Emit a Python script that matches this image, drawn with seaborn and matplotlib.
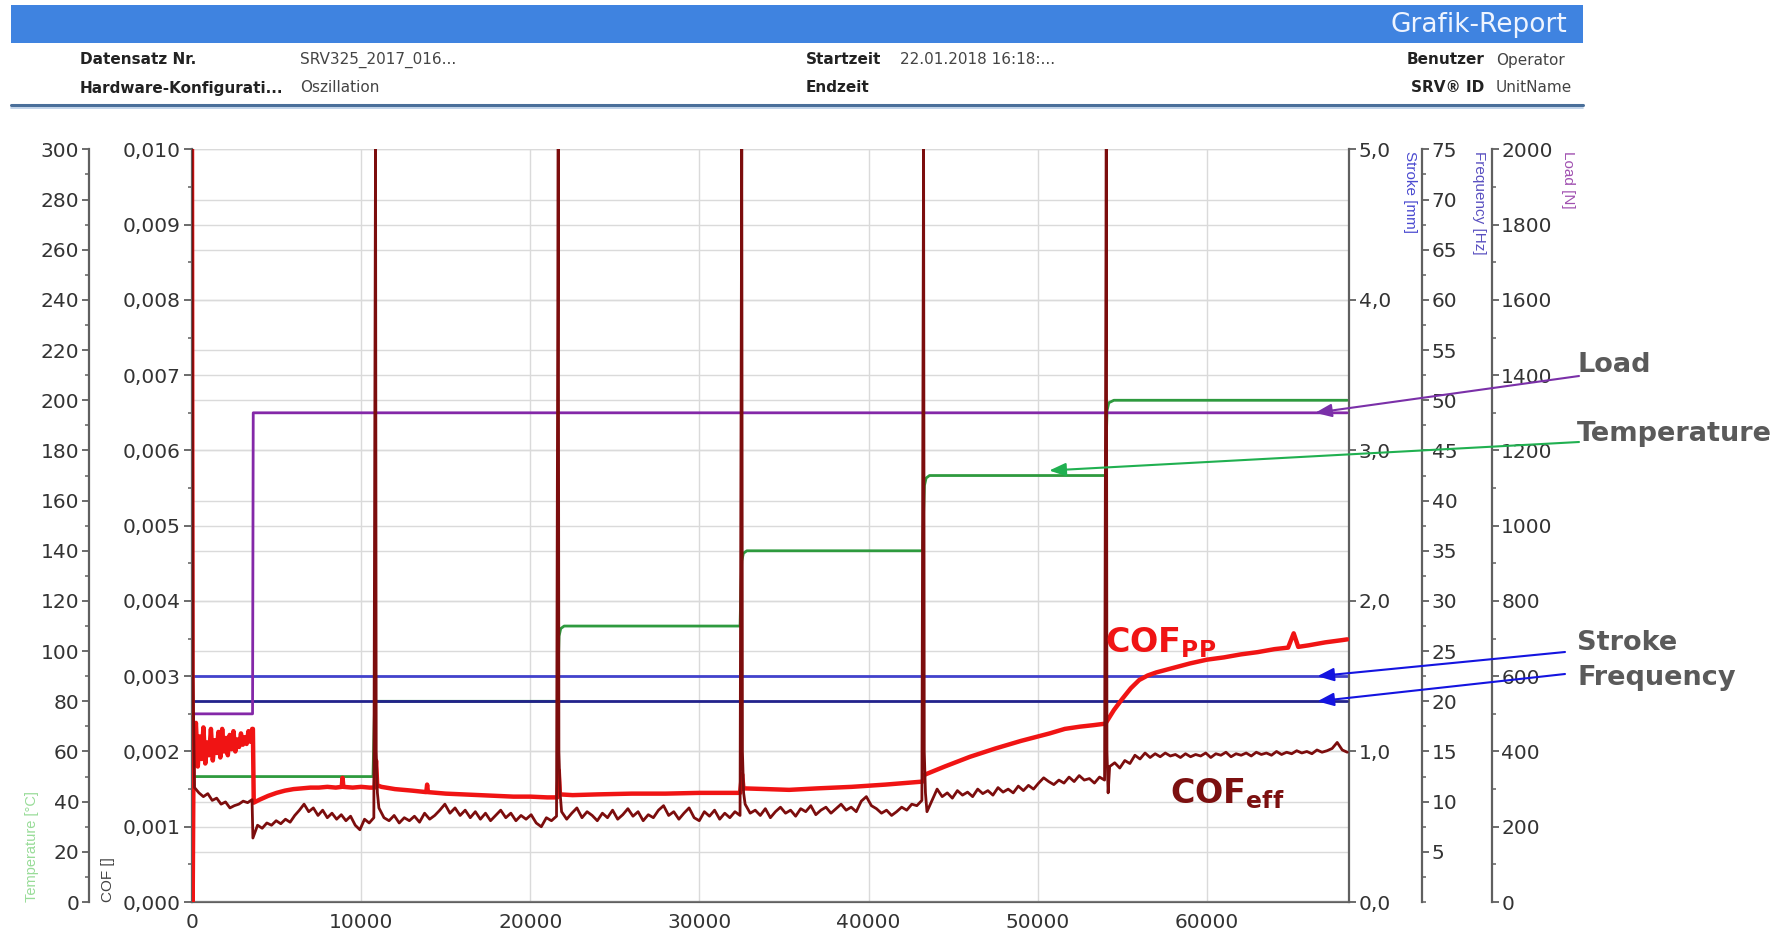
import numpy as np
import pandas as pd
import matplotlib
matplotlib.use("Agg")
import matplotlib.pyplot as plt
from matplotlib.patches import Rectangle
from matplotlib.ticker import MultipleLocator
import seaborn as sns

# ---------------- Daten ----------------
x_max = 68400

# COF_eff in 1e-3, je Abschnitt zwischen den Neustarts
eff_a = [1.52, 1.45, 1.40, 1.44, 1.35, 1.38, 1.30, 1.33, 1.25, 1.28, 1.30, 1.34, 1.32, 1.36]
eff_b = [0.85, 1.02, 0.98, 1.05, 1.02, 1.08, 1.04, 1.10, 1.06, 1.15, 1.22, 1.30, 1.20, 1.25,
         1.15, 1.22, 1.12, 1.18, 1.10, 1.16, 1.08, 1.14, 1.02, 0.96, 1.10, 1.05, 1.12]
eff_c = [1.25, 1.12, 1.08, 1.15, 1.05, 1.12, 1.08, 1.14, 1.06, 1.18, 1.10, 1.15, 1.22, 1.30,
         1.18, 1.25, 1.15, 1.22, 1.12, 1.20, 1.10, 1.18, 1.08, 1.15, 1.22, 1.12, 1.18, 1.08,
         1.15, 1.10, 1.16, 1.05, 1.00, 1.12, 1.08, 1.14]
eff_d = [1.20, 1.10, 1.18, 1.25, 1.12, 1.20, 1.15, 1.08, 1.18, 1.12, 1.22, 1.10, 1.16, 1.24,
         1.14, 1.20, 1.08, 1.16, 1.12, 1.22, 1.28, 1.15, 1.20, 1.10, 1.18, 1.25, 1.12, 1.08,
         1.20, 1.14, 1.22, 1.10, 1.18, 1.12, 1.20, 1.15]
eff_e = [1.30, 1.18, 1.22, 1.15, 1.24, 1.12, 1.20, 1.26, 1.18, 1.22, 1.14, 1.24, 1.20, 1.28,
         1.16, 1.22, 1.26, 1.18, 1.24, 1.30, 1.22, 1.26, 1.20, 1.34, 1.40, 1.28, 1.24, 1.18,
         1.22, 1.15, 1.20, 1.26, 1.22, 1.30, 1.28, 1.35]
eff_f = [1.20, 1.35, 1.50, 1.40, 1.45, 1.38, 1.48, 1.42, 1.46, 1.40, 1.50, 1.44, 1.48, 1.42,
         1.52, 1.46, 1.50, 1.45, 1.54, 1.48, 1.55, 1.50, 1.58, 1.65, 1.60, 1.56, 1.62, 1.58,
         1.66, 1.60, 1.68, 1.62, 1.64, 1.58, 1.66, 1.62]
eff_g = [1.80, 1.85, 1.78, 1.88, 1.84, 1.95, 1.90, 1.98, 1.92, 1.97, 1.93, 1.98, 1.94, 1.96,
         1.92, 1.97, 1.93, 1.96, 1.94, 1.98, 1.92, 1.97, 1.95, 1.99, 1.93, 1.97, 1.95, 1.98,
         1.94, 1.99, 1.96, 1.98, 1.95, 2.00, 1.96, 1.99, 1.97, 2.01, 1.98, 2.00, 1.97, 2.02,
         1.99, 2.01, 2.04, 2.12, 2.02, 1.99]
eff_segments = [eff_a, eff_b, eff_c, eff_d, eff_e, eff_f, eff_g]
eff_ranges = [(150, 3550), (3600, 10750), (11050, 21550), (21850, 32400),
              (32700, 43150), (43450, 53950), (54250, 68300)]

# Neustart-Spitzen (COF_eff)
spike_x = [10850, 21650, 32500, 43250, 54050]
spike_dx = [0, 40, 110]
spike_val = [10.2, 2.0, 1.45]

# COF_PP in 1e-3
pp_band = [1.85, 2.38, 1.80, 2.20, 1.90, 2.32, 1.84, 2.12, 1.95, 2.30, 1.88, 2.15, 1.98, 2.26,
           1.92, 2.30, 2.00, 2.18, 1.95, 2.22, 2.03, 2.27, 2.00, 2.16, 2.06, 2.24, 2.09, 2.19,
           2.10, 2.27, 2.13, 2.30]
pp_x = [3600, 3650, 4000, 4500, 5000, 5500, 6000, 6500, 7000, 7500, 8000, 8500, 8850, 8900,
        8950, 9500, 10000, 10500, 10800, 10880, 10950, 11200, 12000, 13000, 13850, 13900,
        13950, 15000, 16000, 17000, 18000, 19000, 20000, 21000, 21600, 21680, 21750, 22500,
        24000, 26000, 28000, 30000, 32400, 32520, 32600, 34000, 35300, 37000, 39000, 41000,
        43200, 43300, 44500, 46000, 47500, 49000, 50700, 51600, 52500, 53300, 54000, 54500,
        55000, 55500, 56000, 56500, 57000, 58000, 59000, 60000, 61000, 62000, 63000, 64000,
        64800, 65130, 65400, 66000, 67000, 68000, 68300]
pp_y = [2.30, 1.32, 1.36, 1.41, 1.45, 1.48, 1.50, 1.51, 1.52, 1.52, 1.53, 1.52, 1.53, 1.65,
        1.53, 1.52, 1.53, 1.52, 1.52, 1.88, 1.55, 1.53, 1.50, 1.48, 1.46, 1.56, 1.46, 1.44,
        1.43, 1.42, 1.41, 1.40, 1.40, 1.39, 1.39, 1.75, 1.43, 1.42, 1.43, 1.44, 1.44, 1.45,
        1.45, 1.70, 1.51, 1.50, 1.49, 1.51, 1.53, 1.56, 1.60, 1.69, 1.80, 1.93, 2.04, 2.14,
        2.24, 2.30, 2.33, 2.35, 2.37, 2.55, 2.70, 2.84, 2.95, 3.01, 3.05, 3.11, 3.17, 3.22,
        3.25, 3.29, 3.32, 3.36, 3.38, 3.57, 3.39, 3.41, 3.45, 3.48, 3.49]

# Temperatur [°C]
temp_x = [0, 10700, 10800, 21600, 21650, 21700, 21800, 22000, 32400, 32450, 32500, 32600,
          32800, 43200, 43250, 43300, 43400, 43600, 54000, 54050, 54100, 54200, 54500, 68300]
temp_y = [50, 50, 80, 80, 93, 106, 109, 110, 110, 125, 136, 139,
          140, 140, 155, 166, 169, 170, 170, 185, 196, 199, 200, 200]

# Last [N], Hub [mm], Frequenz [Hz]
load_x = [0, 40, 3580, 3620, 68300]
load_y = [0, 500, 500, 1300, 1300]
stroke_x = [0, 68300]
stroke_y = [1.5, 1.5]
freq_x = [0, 68300]
freq_y = [20, 20]

# Achsenbeschriftungen
x_ticks = [0, 10000, 20000, 30000, 40000, 50000, 60000]
cof_ticks = [0.000, 0.001, 0.002, 0.003, 0.004, 0.005, 0.006, 0.007, 0.008, 0.009, 0.010]
cof_labels = ["0,000", "0,001", "0,002", "0,003", "0,004", "0,005", "0,006", "0,007",
              "0,008", "0,009", "0,010"]
temp_ticks = list(range(0, 301, 20))
stroke_ticks = [0, 1, 2, 3, 4, 5]
stroke_labels = ["0,0", "1,0", "2,0", "3,0", "4,0", "5,0"]
freq_ticks = list(range(5, 76, 5))
load_ticks = list(range(0, 2001, 200))


def build_eff():
    xs, ys = [0, 60], [10.2, 3.0]
    for i, (a, b) in enumerate(eff_ranges):
        vals = eff_segments[i]
        xs += list(np.linspace(a, b, len(vals)))
        ys += vals
        if 1 <= i <= len(spike_x):
            s = spike_x[i - 1]
            xs += [s + d for d in spike_dx]
            ys += spike_val
    return pd.DataFrame({"x": xs, "cof": np.array(ys) / 1000.0})


def build_pp():
    xs = [0, 40, 90] + list(np.linspace(120, 3560, len(pp_band))) + pp_x
    ys = [10.2, 0.0, 1.9] + pp_band + pp_y
    return pd.DataFrame({"x": xs, "cof": np.array(ys) / 1000.0})


eff_df = build_eff()
pp_df = build_pp()

# ---------------- Plot ----------------
sns.set_style("white")
plt.rcParams["font.family"] = ["DejaVu Sans", "Liberation Sans"]

W, H = 1788, 931
fig = plt.figure(figsize=(W / 100, H / 100), dpi=100)
left, right, top, bottom = 192, 1349, 149.4, 902
ax = fig.add_axes([left / W, (H - bottom) / H, (right - left) / W, (bottom - top) / H])
axw = right - left

spine_col = "#606060"
grid_col = "#dadada"
lab_col = "#333333"
tick_fs = 14.5

ax.set_xlim(0, x_max)
ax.set_ylim(0, 0.010)
ax.set_xticks(x_ticks)
ax.set_xticklabels([str(v) for v in x_ticks])
ax.xaxis.set_minor_locator(MultipleLocator(5000))
ax.set_yticks(cof_ticks)
ax.set_yticklabels(cof_labels)
ax.yaxis.set_minor_locator(MultipleLocator(0.0005))
ax.grid(True, which="major", color=grid_col, lw=1)
for s in ["top", "right"]:
    ax.spines[s].set_visible(False)
for s in ["left", "bottom"]:
    ax.spines[s].set_color(spine_col)
    ax.spines[s].set_linewidth(1.6)
ax.tick_params(which="major", length=6, width=1.3, color=spine_col, labelsize=tick_fs,
               labelcolor=lab_col, pad=2)
ax.tick_params(which="minor", length=3, width=1.1, color=spine_col)


def style_twin(t, side, pos):
    for s in ["top", "bottom", "left", "right"]:
        t.spines[s].set_visible(False)
    t.spines[side].set_visible(True)
    t.spines[side].set_position(("axes", pos))
    t.spines[side].set_color(spine_col)
    t.spines[side].set_linewidth(1.6)
    if side == "left":
        t.yaxis.tick_left()
    else:
        t.yaxis.tick_right()
    t.tick_params(which="major", length=5, width=1.3, color=spine_col, labelsize=tick_fs,
                  labelcolor=lab_col, pad=2)
    t.tick_params(which="minor", length=3, width=1.1, color=spine_col)


# Temperatur (links, aussen)
ax_t = ax.twinx()
style_twin(ax_t, "left", -103 / axw)
ax_t.set_ylim(0, 300)
ax_t.set_yticks(temp_ticks)
ax_t.yaxis.set_minor_locator(MultipleLocator(10))
ax_t.grid(True, axis="y", which="major", color=grid_col, lw=1)
sns.lineplot(x=temp_x, y=temp_y, ax=ax_t, color="#2e9a3e", lw=2, estimator=None, sort=False)

# Hub
ax_s = ax.twinx()
style_twin(ax_s, "right", 1.0)
ax_s.set_ylim(0, 5)
ax_s.set_yticks(stroke_ticks)
ax_s.set_yticklabels(stroke_labels)
sns.lineplot(x=stroke_x, y=stroke_y, ax=ax_s, color="#4242cc", lw=2, estimator=None, sort=False)

# Frequenz
ax_f = ax.twinx()
style_twin(ax_f, "right", (1422 - left) / axw)
ax_f.set_ylim(0, 75)
ax_f.set_yticks(freq_ticks)
ax_f.yaxis.set_minor_locator(MultipleLocator(2.5))
sns.lineplot(x=freq_x, y=freq_y, ax=ax_f, color="#22228c", lw=2, estimator=None, sort=False)

# Last
ax_l = ax.twinx()
style_twin(ax_l, "right", (1491.5 - left) / axw)
ax_l.set_ylim(0, 2000)
ax_l.set_yticks(load_ticks)
ax_l.yaxis.set_minor_locator(MultipleLocator(100))
sns.lineplot(x=load_x, y=load_y, ax=ax_l, color="#8428a8", lw=2, estimator=None, sort=False)

# COF-Kurven oben drauf
ax_c = ax.twinx()
ax_c.set_ylim(0, 0.010)
ax_c.set_xlim(0, x_max)
ax_c.axis("off")
sns.lineplot(data=pp_df, x="x", y="cof", ax=ax_c, color="#f01414", lw=3.2,
             estimator=None, sort=False)
sns.lineplot(data=eff_df, x="x", y="cof", ax=ax_c, color="#7c0d0d", lw=2.0,
             estimator=None, sort=False)
for a in [ax, ax_t, ax_s, ax_f, ax_l, ax_c]:
    a.set_xlim(0, x_max)
    a.set_xlabel("")
    a.set_ylabel("")

# Achsentitel
fig.text(32 / W, (H - bottom) / H, "Temperature [°C]", rotation=90, ha="center", va="bottom",
         color="#98dc98", fontsize=10.5, family="Liberation Sans")
fig.text(108 / W, (H - bottom) / H, "COF []", rotation=90, ha="center", va="bottom",
         color="#444444", fontsize=11, family="Liberation Sans")
fig.text(1410 / W, (H - 151) / H, "Stroke [mm]", rotation=270, ha="center", va="top",
         color="#4a4ad0", fontsize=11, family="Liberation Sans")
fig.text(1479 / W, (H - 151) / H, "Frequency [Hz]", rotation=270, ha="center", va="top",
         color="#5a50c0", fontsize=11, family="Liberation Sans")
fig.text(1568 / W, (H - 151) / H, "Load [N]", rotation=270, ha="center", va="top",
         color="#a050b0", fontsize=11, family="Liberation Sans")

# Kurvenbeschriftungen
fig.text(1105 / W, (H - 652) / H, r"$\mathbf{COF}_{\mathbf{PP}}$", color="#f01414",
         fontsize=24, va="baseline", ha="left")
fig.text(1170 / W, (H - 803) / H, r"$\mathbf{COF}_{\mathbf{eff}}$", color="#7c1010",
         fontsize=24, va="baseline", ha="left")

# Pfeile mit Beschriftung
arrow_style = "-|>,head_length=0.5,head_width=0.2"
notes = [
    ("Load", ax_l, (66400, 1300), (1579, 376), (1577, 365), "#7a30a8"),
    ("Temperature", ax_t, (50680, 172), (1579, 442), (1577, 434), "#20b050"),
    ("Stroke", ax_s, (66530, 1.5), (1565, 652), (1577, 643), "#1414e0"),
    ("Frequency", ax_f, (66530, 20), (1565, 674), (1577, 678), "#1414e0"),
]
for label, a, xy, tail, txt, col in notes:
    ax_c.annotate("", xy=xy, xycoords=a.transData, xytext=(tail[0], H - tail[1]),
                  textcoords="figure pixels", annotation_clip=False,
                  arrowprops=dict(arrowstyle=arrow_style, color=col, lw=1.5,
                                  mutation_scale=20, shrinkA=0, shrinkB=0))
    fig.text(txt[0] / W, (H - txt[1]) / H, label, ha="left", va="center",
             fontsize=19.5, fontweight="bold", color="#5a5a5a")

# Kopfzeile
fig.add_artist(Rectangle((11 / W, 1 - 43 / H), (1583 - 11) / W, 38 / H,
                         transform=fig.transFigure, color="#3f83e0", lw=0))
fig.text(1567 / W, 1 - 25 / H, "Grafik-Report", ha="right", va="center",
         fontsize=19, color="#eef4ff")
head = [
    (80, 60, "Datensatz Nr.", "left", True), (300, 60, "SRV325_2017_016...", "left", False),
    (806, 60, "Startzeit", "left", True), (900, 60, "22.01.2018 16:18:...", "left", False),
    (1484, 60, "Benutzer", "right", True), (1496, 60, "Operator", "left", False),
    (80, 88, "Hardware-Konfigurati...", "left", True), (300, 88, "Oszillation", "left", False),
    (806, 88, "Endzeit", "left", True),
    (1484, 88, "SRV® ID", "right", True), (1496, 88, "UnitName", "left", False),
]
for hx, hy, t, ha, bold in head:
    fig.text(hx / W, 1 - hy / H, t, ha=ha, va="center", fontsize=11,
             fontweight="bold" if bold else "normal", color="#222222" if bold else "#444444")
fig.add_artist(plt.Line2D([11 / W, 1583 / W], [1 - 105 / H, 1 - 105 / H],
                          transform=fig.transFigure, color="#4a6f9a", lw=2.2))
fig.add_artist(plt.Line2D([11 / W, 1583 / W], [1 - 107.5 / H, 1 - 107.5 / H],
                          transform=fig.transFigure, color="#b8cde6", lw=1.2))

fig.savefig("out.png", dpi=100)
